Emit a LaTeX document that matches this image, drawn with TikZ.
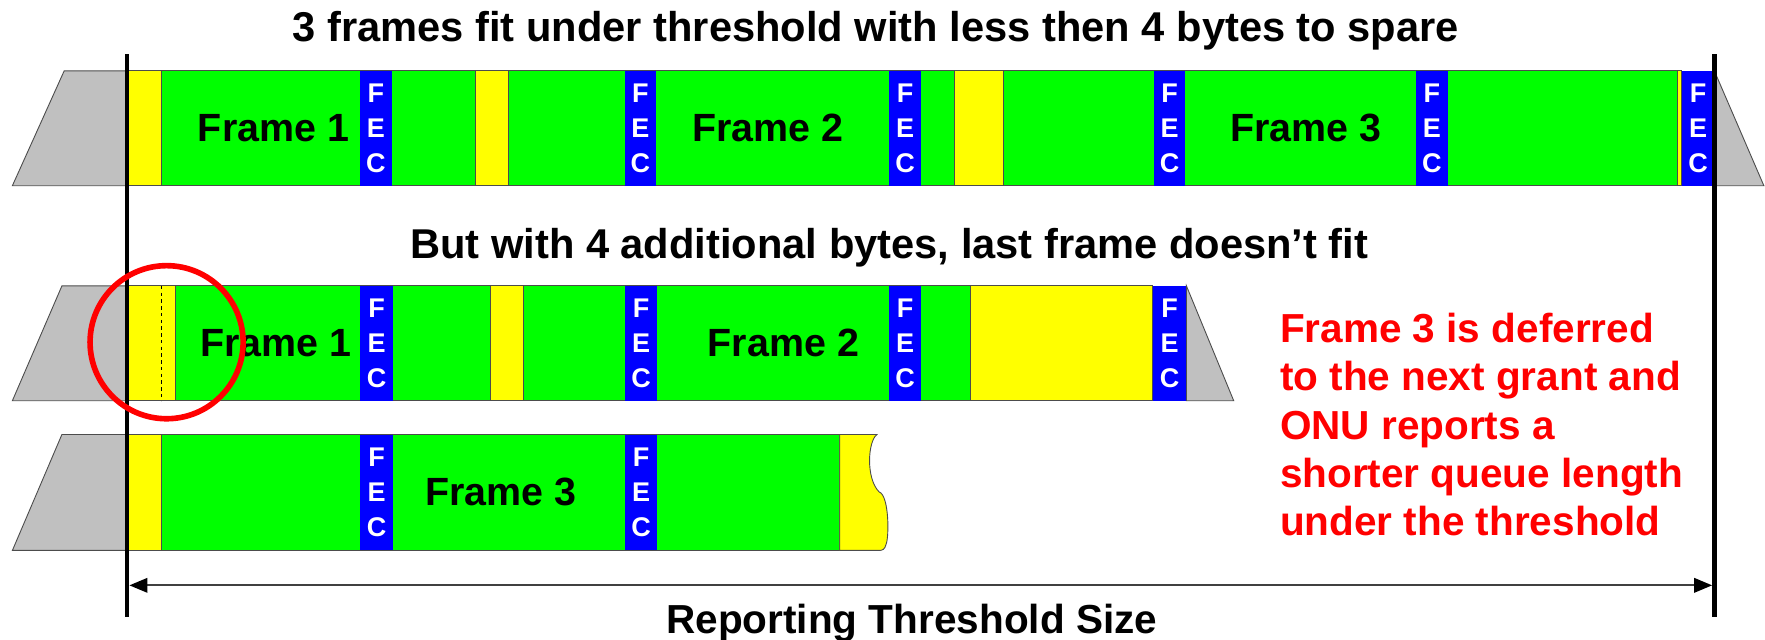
\documentclass[tikz,border=0pt]{standalone}
\usepackage{fontspec}
\setmainfont{Liberation Sans}
\usetikzlibrary{arrows.meta}
\definecolor{fgreen}{HTML}{00FF00}
\definecolor{fyellow}{HTML}{FFFF00}
\definecolor{fblue}{HTML}{0000FF}
\definecolor{fgray}{HTML}{C0C0C0}
\definecolor{fred}{HTML}{FF0000}
\newcommand{\fecbar}[5]{%
  \fill[fecbox] (#1,#3) rectangle (#2,#4);
  \node[fectext] (#5) at ({(#1+#2)/2},{(#3+#4)/2}) {F\\E\\C};}
\begin{document}
\begin{tikzpicture}[x=1pt,y=-1pt,
  greenbox/.style={fill=fgreen,draw=black!70,line width=0.8pt},
  yellowbox/.style={fill=fyellow,draw=black!70,line width=0.8pt},
  fecbox/.style={fill=fblue,draw=none},
  grayshape/.style={fill=fgray,draw=black!70,line width=0.8pt},
  fectext/.style={text=white,font=\fontsize{24}{31}\selectfont\bfseries,align=center,inner sep=0pt},
  framelabel/.style={font=\fontsize{35}{40}\selectfont\bfseries,inner sep=0pt},
  titletext/.style={font=\fontsize{37}{40}\selectfont\bfseries,inner sep=0pt,anchor=base},
  redtext/.style={text=fred,font=\fontsize{36}{40}\selectfont\bfseries,inner sep=0pt,anchor=base west},
  thresh/.style={line width=4pt,black},
  dimline/.style={line width=1.5pt,black!75,{Triangle[length=16pt,width=13pt,black]}-{Triangle[length=16pt,width=13pt,black]}},
]
\useasboundingbox (0,0) rectangle (1568,568);

% titles
\node[titletext] (t1) at (778,37) {3 frames fit under threshold with less then 4 bytes to spare};
\node[titletext] (t2) at (790,230) {But with 4 additional bytes, last frame doesn’t fit};
\node[titletext,font=\fontsize{36}{40}\selectfont\bfseries] (t3) at (810,563) {Reporting Threshold Size};

% ---------- row 1 ----------
\draw[grayshape] (57,63) -- (113,63) -- (113,165) -- (11,165) -- cycle;
\draw[grayshape] (1523,63) -- (1567,165) -- (1523,165) -- cycle;
\draw[yellowbox] (113,63) rectangle (143,165);
\draw[greenbox] (143,63) rectangle (422,165);
\draw[yellowbox] (422,63) rectangle (452,165);
\draw[greenbox] (452,63) rectangle (848,165);
\draw[yellowbox] (848,63) rectangle (891,165);
\draw[greenbox] (891,63) rectangle (1490,165);
\draw[yellowbox] (1490,63) rectangle (1494,165);
\fecbar{320}{348}{63}{165}{fa1}
\fecbar{555}{583}{63}{165}{fa2}
\fecbar{790}{818}{63}{165}{fa3}
\fecbar{1025}{1053}{63}{165}{fa4}
\fecbar{1258}{1286}{63}{165}{fa5}
\fecbar{1494}{1523}{63}{165}{fa6}
\node[framelabel] (r1f1) at (243,114) {Frame 1};
\node[framelabel] (r1f2) at (682,114) {Frame 2};
\node[framelabel] (r1f3) at (1160,114) {Frame 3};

% ---------- row 2 ----------
\draw[grayshape] (55,254) -- (113,254) -- (113,356) -- (11,356) -- cycle;
\draw[grayshape] (1054,254) -- (1096,356) -- (1054,356) -- cycle;
\draw[yellowbox] (113,254) rectangle (156,356);
\draw[black, line width=0.8pt, dashed] (143,254) -- (143,356);
\draw[greenbox] (156,254) rectangle (436,356);
\draw[yellowbox] (436,254) rectangle (465,356);
\draw[greenbox] (465,254) rectangle (862,356);
\draw[yellowbox] (862,254) rectangle (1024,356);
\fecbar{320}{349}{254}{356}{fb1}
\fecbar{555}{584}{254}{356}{fb2}
\fecbar{790}{818}{254}{356}{fb3}
\fecbar{1024}{1054}{254}{356}{fb4}
\node[framelabel] (r2f1) at (245,305) {Frame 1};
\node[framelabel] (r2f2) at (696,305) {Frame 2};

% ---------- row 3 ----------
\draw[grayshape] (55,386) -- (113,386) -- (113,489) -- (11,489) -- cycle;
\draw[yellowbox] (113,386) rectangle (143,489);
\draw[greenbox] (143,386) rectangle (746,489);
\draw[yellowbox] (746,386) -- (779,386) .. controls (771,392) and (769,425) .. (781,437)
  .. controls (790,440) and (790,478) .. (787,484) .. controls (786,488) and (784,489) .. (781,489)
  -- (746,489) -- cycle;
\fecbar{320}{349}{386}{489}{fc1}
\fecbar{555}{584}{386}{489}{fc2}
\node[framelabel] (r3f3) at (445,437) {Frame 3};

% threshold lines
\coordinate (lt) at (113,48);
\coordinate (lb) at (113,548);
\coordinate (rt) at (1523,48);
\coordinate (rb) at (1523,548);
\draw[thresh] (lt) -- (lb);
\draw[thresh] (rt) -- (rb);
\coordinate (al) at (115,520);
\coordinate (ar) at (1521,520);
\draw[dimline] (al) -- (ar);

% red circle
\draw[fred, line width=5pt] (148,304) circle[radius=68];

% red note
\node[redtext] (n1) at (1137,304) {Frame 3 is deferred};
\node[redtext] (n2) at (1137,347) {to the next grant and};
\node[redtext] (n3) at (1137,390) {ONU reports a};
\node[redtext] (n4) at (1137,433) {shorter queue length};
\node[redtext] (n5) at (1137,476) {under the threshold};
\end{tikzpicture}
\end{document}
